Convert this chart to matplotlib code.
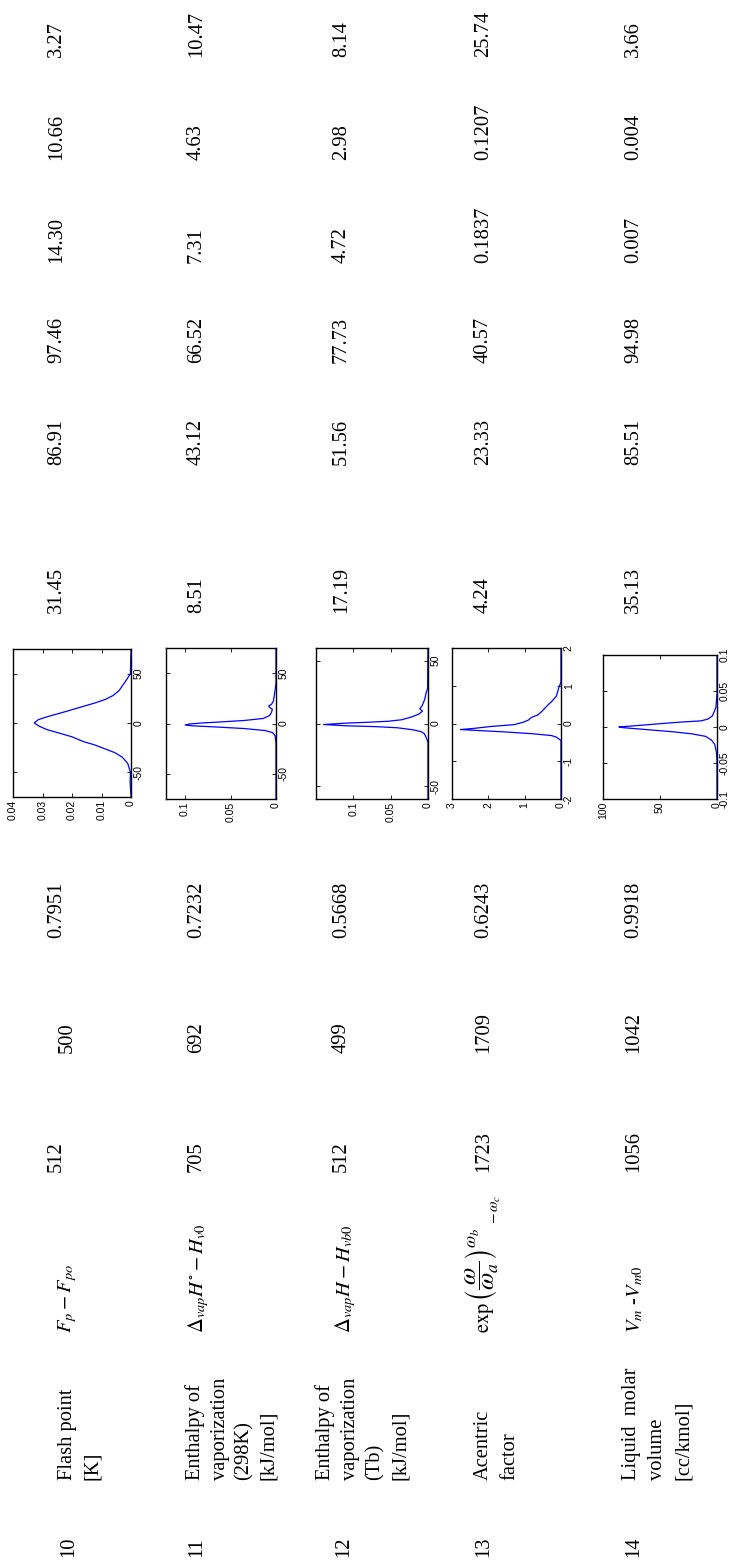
import matplotlib
matplotlib.use("Agg")
import matplotlib.pyplot as plt

plt.rcParams['mathtext.fontset'] = 'stix'

# ---------------- data ----------------
row_ids = ['10', '11', '12', '13', '14']
names = [['Flash point', '[K]'],
         ['Enthalpy of', 'vaporization', '(298K)', '[kJ/mol]'],
         ['Enthalpy of', 'vaporization', '(Tb)', '[kJ/mol]'],
         ['Acentric', 'factor'],
         ['Liquid  molar', 'volume', '[cc/kmol]']]
formulas = [r'$F_p - F_{po}$',
            r'$\Delta_{vap}H^{\circ} - H_{v0}$',
            r'$\Delta_{vap}H - H_{vb0}$',
            None,
            r'$V_m$ -$V_{m0}$']
acentric_parts = [r'$\mathrm{exp}$',
                  r'$\left(\dfrac{\omega}{\omega_a}\right)^{\omega_b}$',
                  r'$-\,\omega_c$']
col_I = ['512', '705', '512', '1723', '1056']
col_H = ['500', '692', '499', '1709', '1042']
col_G = ['0.7951', '0.7232', '0.5668', '0.6243', '0.9918']
col_F = ['31.45', '8.51', '17.19', '4.24', '35.13']
col_E = ['86.91', '43.12', '51.56', '23.33', '85.51']
col_D = ['97.46', '66.52', '77.73', '40.57', '94.98']
col_C = ['14.30', '7.31', '4.72', '0.1837', '0.007']
col_B = ['10.66', '4.63', '2.98', '0.1207', '0.004']
col_A = ['3.27', '10.47', '8.14', '25.74', '3.66']

# distribution curves (value, density)
c1_x = [-75, -59, -50, -41, -34.5, -30, -26, -22, -19, -14, -10, -6.7, -3.4, 0, 3.4, 6.7, 10, 13.5, 17, 20.5, 24, 28, 33, 43, 50, 75]
c1_d = [0, 0.0003, 0.0002, 0.0011, 0.003, 0.0055, 0.009, 0.0125, 0.016, 0.020, 0.0246, 0.0285, 0.031, 0.0328, 0.0314, 0.028, 0.024, 0.020, 0.016, 0.012, 0.0086, 0.006, 0.004, 0.0017, 0.0002, 0]
c2_x = [-75, -20, -12, -9, -7, -5, -3.5, -2.3, -1.5, -0.5, 0.5, 1.5, 3, 5, 8, 11, 14, 16, 17.5, 19, 22, 27, 33, 40, 75]
c2_d = [0, 0, 0.001, 0.004, 0.012, 0.035, 0.065, 0.092, 0.1, 0.095, 0.082, 0.062, 0.035, 0.014, 0.007, 0.005, 0.004, 0.007, 0.008, 0.005, 0.003, 0.002, 0.001, 0, 0]
c3_x = [-60, -15, -11.7, -8, -6.5, -5, -3.4, -2.5, -1.8, -0.8, 0.3, 1, 1.8, 3, 5.2, 7.5, 9.8, 11.7, 14, 16.8, 20, 23.3, 28, 60]
c3_d = [0, 0, 0.002, 0.005, 0.009, 0.02, 0.041, 0.07, 0.11, 0.14, 0.11, 0.08, 0.053, 0.035, 0.022, 0.012, 0.0075, 0.011, 0.008, 0.006, 0.004, 0.003, 0.0005, 0]
c4_x = [-2, -0.45, -0.36, -0.32, -0.27, -0.22, -0.18, -0.16, -0.13, -0.08, -0.03, 0.03, 0.09, 0.14, 0.18, 0.22, 0.3, 0.4, 0.5, 0.58, 0.72, 0.85, 0.95, 1.1, 2]
c4_d = [0, 0, 0.13, 0.26, 0.8, 1.6, 2.4, 2.77, 2.4, 1.94, 1.29, 1.05, 0.9, 0.84, 0.77, 0.65, 0.55, 0.45, 0.35, 0.26, 0.13, 0.09, 0.06, 0, 0]
c5_x = [-0.1, -0.047, -0.035, -0.024, -0.018, -0.013, -0.0095, -0.0066, -0.0045, -0.0024, -0.001, 0, 0.0014, 0.003, 0.005, 0.007, 0.0085, 0.011, 0.0155, 0.027, 0.046, 0.1]
c5_d = [0, 0, 0.5, 2, 5, 10, 22, 39, 55, 71, 82, 86, 75, 62, 47, 30, 14, 8, 4, 1, 0, 0]
curves_x = [c1_x, c2_x, c3_x, c4_x, c5_x]
curves_d = [c1_d, c2_d, c3_d, c4_d, c5_d]

dens_ticks = [[0, 0.01, 0.02, 0.03, 0.04], [0, 0.05, 0.1], [0, 0.05, 0.1], [0, 1, 2, 3], [0, 50, 100]]
dens_labels = [['0', '0.01', '0.02', '0.03', '0.04'], ['0', '0.05', '0.1'], ['0', '0.05', '0.1'],
               ['0', '1', '2', '3'], ['0', '50', '100']]
dens_lim = [0.04, 0.121, 0.15, 3, 100]
val_ticks = [[-50, 0, 50], [-50, 0, 50], [-50, 0, 50], [-2, -1, 0, 1, 2], [-0.1, -0.05, 0, 0.05, 0.1]]
val_labels = [['-50', '0', '50'], ['-50', '0', '50'], ['-50', '0', '50'],
              ['-2', '-1', '0', '1', '2'], ['-0.1', '-0.05', '0', '0.05', '0.1']]
val_lim = [75, 75, 60, 2, 0.1]

# ---------------- layout (pixels) ----------------
W, H = 730, 1564
fig = plt.figure(figsize=(W / 100, H / 100), dpi=100)
FS = 14.8
SERIF = 'Liberation Serif'

num_base = [61, 201, 346, 488, 638]
name_base = [72, 200, 330, 488, 636]
name_pitch = [25, 24.5, 25, 26, 26]
id_base = [73, 201, 348, 488, 638]
form_base = [71, 203, 350, 489, 640]
col_start = {'A': 57, 'B': 160, 'C': 263, 'D': 363, 'E': 465, 'F': 613,
             'G': 938, 'H': 1053, 'I': 1172}
form_start = 1333
name_start = 1480
id_start = 1557


def put(x, y, s, size=FS, va='baseline'):
    fig.text(x / W, 1 - y / H, s, rotation=90, rotation_mode='anchor',
             ha='left', va=va, fontsize=size, family=SERIF)


cols = {'A': col_A, 'B': col_B, 'C': col_C, 'D': col_D, 'E': col_E,
        'F': col_F, 'G': col_G, 'H': col_H, 'I': col_I}
for i in range(5):
    for key, vals in cols.items():
        xb = num_base[i]
        if i == 0 and key == 'H':
            xb = 72
        put(xb, col_start[key], vals[i])
    put(id_base[i], id_start, row_ids[i])
    for j, line in enumerate(names[i]):
        put(name_base[i] + j * name_pitch[i], name_start, line)
    if formulas[i] is not None:
        put(form_base[i], form_start, formulas[i])

# acentric factor expression, composed of three pieces
put(489, 1333, acentric_parts[0])
put(482, 1302, acentric_parts[1], size=18, va='center')
put(499, 1224, acentric_parts[2], size=11)

# ---------------- small distribution plots ----------------
boxes = [(13, 131, 649, 797), (166, 276, 648, 799), (316, 428, 648, 799),
         (452, 561, 648, 799), (603, 717, 655, 799)]
for k in range(5):
    x0, x1, y0, y1 = boxes[k]
    ax = fig.add_axes([x0 / W, 1 - y1 / H, (x1 - x0) / W, (y1 - y0) / H])
    ax.plot(curves_d[k], curves_x[k], color='#0000ff', lw=0.9)
    ax.set_xlim(dens_lim[k], 0)
    ax.set_ylim(-val_lim[k], val_lim[k])
    ax.set_xticks(dens_ticks[k])
    ax.set_xticklabels(dens_labels[k], rotation=90, fontsize=7.5, family='Liberation Sans')
    ax.set_yticks(val_ticks[k])
    ax.set_yticklabels(val_labels[k], rotation=90, fontsize=7.5, family='Liberation Sans',
                       va='center')
    ax.yaxis.tick_right()
    ax.tick_params(direction='in', length=3, width=0.6, top=True, left=True,
                   bottom=True, right=True, labelleft=False, labelright=True, pad=2)
    for sp in ax.spines.values():
        sp.set_linewidth(1.0)
        sp.set_color('black')

fig.savefig('out.png', dpi=100)
